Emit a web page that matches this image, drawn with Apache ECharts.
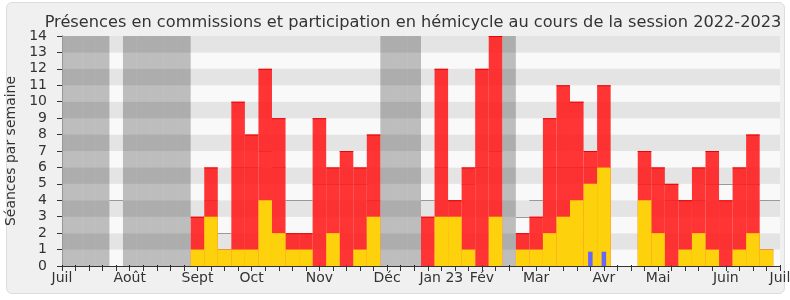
<!DOCTYPE html>
<html><head><meta charset="utf-8">
<script src="https://cdn.jsdelivr.net/npm/echarts@6/dist/echarts.min.js"></script>
<style>
html,body{margin:0;padding:0;background:#fff;}
#wrap{position:relative;width:790px;height:300px;}
#box{position:absolute;left:6px;top:2px;width:777px;height:290px;border:1px solid #dcdcdc;border-radius:6px;background:#f0f0f0;}
#c{position:absolute;left:0;top:0;width:790px;height:300px;}
</style>
</head><body><div id="wrap"><div id="box"></div><div id="c"></div></div>
<script>
// Week index 0..53 (week 0 = début juillet 2022)
const monthLabels = {0:'Juil',5:'Août',10:'Sept',14:'Oct',19:'Nov',24:'Déc',28:'Jan 23',31:'Fév',35:'Mar',40:'Avr',44:'Mai',49:'Juin',53:'Juil'};
const vacationWeeks = [0,1,2,3,5,6,7,8,9,24,25,26,33];
// Présences (rouge)
const presences = [0,0,0,0,0,0,0,0,0,0, 3,6,1,10,8,12,9,2,2,9, 6,7,6,8,0,0,0,3,12,4, 6,12,14,0,2,3,9,11,10,7, 11,0,0,7,6,5,4,6,7,4, 6,8,1,0];
// Participations en hémicycle (jaune)
const hemicycle = [0,0,0,0,0,0,0,0,0,0, 1,3,1,1,1,4,2,1,1,0, 2,0,1,3,0,0,0,0,3,3, 1,0,3,0,1,1,2,3,4,5, 6,0,0,4,2,0,1,2,1,0, 1,2,1,0];
// Questions orales (bleu)
const questions = [0,0,0,0,0,0,0,0,0,0, 0,0,0,0,0,0,0,0,0,0, 0,0,0,0,0,0,0,0,0,0, 0,0,0,0,0,0,0,0,0,0.87, 0.87,0,0,0,0,0,0,0,0,0, 0,0,0,0];
// Médiane des députés
const mediane = [null,null,null,null,4,null,null,null,null,null, 3,4,2,6,6,7,6,4,4,5, 5,5,5,4,null,null,null,4,6,4, 5,6,7,null,3,4,6,6,6,6, 6,null,null,5,5,4,4,4,5,5, 5,5,4,4];

const chart = echarts.init(document.getElementById('c'), null, {renderer:'canvas'});
const FONT = 'DejaVu Sans';

function clip(r, cs){ return echarts.graphic.clipRectByRect(r, {x:cs.x,y:cs.y,width:cs.width,height:cs.height}); }

function barRender(fill, edge, frac){
  return function(params, api){
    const i = api.value(0), v = api.value(1);
    if (!v) return;
    const h = frac/2;
    const p0 = api.coord([i-h, v]), p1 = api.coord([i+h, 0]);
    const r = clip({x:p0[0], y:p0[1], width:p1[0]-p0[0], height:p1[1]-p0[1]}, params.coordSys);
    if (!r) return;
    const children = [{type:'rect', shape:r, style:{fill:fill}}];
    if (edge) children.push({type:'line', shape:{x1:r.x, y1:r.y+0.5, x2:r.x+r.width, y2:r.y+0.5}, style:{stroke:edge, lineWidth:1}});
    return {type:'group', children};
  };
}

const vacData = vacationWeeks.map(w => [w, 14]);

chart.setOption({
  animation:false,
  title:{text:'Présences en commissions et participation en hémicycle au cours de la session 2022-2023',
    left:408, textAlign:'center', top:10,
    textStyle:{fontFamily:FONT, fontSize:16.2, fontWeight:'normal', color:'#333'}},
  grid:{left:62, right:10, top:36, bottom:34, containLabel:false, outerBoundsMode:'none'},
  xAxis:[{
    type:'value', min:0, max:53, interval:1, position:'bottom',
    axisLine:{show:true, onZero:false, lineStyle:{color:'#333', width:1}},
    axisTick:{show:true, length:5, lineStyle:{color:'#333'}},
    axisLabel:{show:true, margin:5, showMinLabel:true, showMaxLabel:true, fontFamily:FONT, fontSize:14, color:'#333',
      formatter: v => monthLabels[v] || ''},
    splitLine:{show:false}
  },{
    type:'value', min:0, max:53, interval:1, position:'top',
    axisLine:{show:false}, axisTick:{show:true, length:1, lineStyle:{color:'#222'}},
    axisLabel:{show:false}, splitLine:{show:false}
  }],
  yAxis:[{
    type:'value', min:0, max:14, interval:1,
    name:'Séances par semaine', nameLocation:'middle', nameGap:40,
    nameTextStyle:{fontFamily:FONT, fontSize:14, color:'#333'},
    axisLine:{show:true, lineStyle:{color:'#333'}},
    axisTick:{show:true, length:5, lineStyle:{color:'#333'}},
    axisLabel:{fontFamily:FONT, fontSize:14, color:'#333', margin:15},
    splitLine:{show:false},
    splitArea:{show:true, areaStyle:{color:['#f9f9f9','#e4e4e4']}}
  },{
    type:'value', min:0, max:14, interval:1, position:'right',
    axisLine:{show:true, lineStyle:{color:'#c8c8c8'}}, axisTick:{show:false}, axisLabel:{show:false}, splitLine:{show:false}
  }],
  series:[
    {type:'custom', name:'vacances', z:1, data:vacData, renderItem: barRender('rgba(0,0,0,0.24)', null, 1)},
    {type:'custom', name:'médiane', z:2, data:mediane.map((v,i)=>[i,v]),
      renderItem:function(params, api){
        const i = api.value(0), v = api.value(1);
        if (v == null || isNaN(v)) return;
        const a = api.coord([i-0.5, v]), b = api.coord([i+0.5, v]);
        const x1 = Math.max(a[0], params.coordSys.x), x2 = Math.min(b[0], params.coordSys.x+params.coordSys.width);
        const y = Math.round(a[1]) + 0.5;
        return {type:'line', shape:{x1:x1, y1:y, x2:x2, y2:y}, style:{stroke:'#999', lineWidth:1}};
      }},
    {type:'custom', name:'présences', z:3, data:presences.map((v,i)=>[i,v]), renderItem: barRender('rgba(255,25,25,0.88)', 'rgba(230,0,0,0.9)', 1)},
    {type:'custom', name:'hémicycle', z:4, data:hemicycle.map((v,i)=>[i,v]), renderItem: barRender('#fdd20c', null, 1)},
    {type:'custom', name:'questions', z:5, data:questions.map((v,i)=>[i,v]), renderItem: barRender('#6666ff', null, 1/3)}
  ]
});
</script></body></html>
